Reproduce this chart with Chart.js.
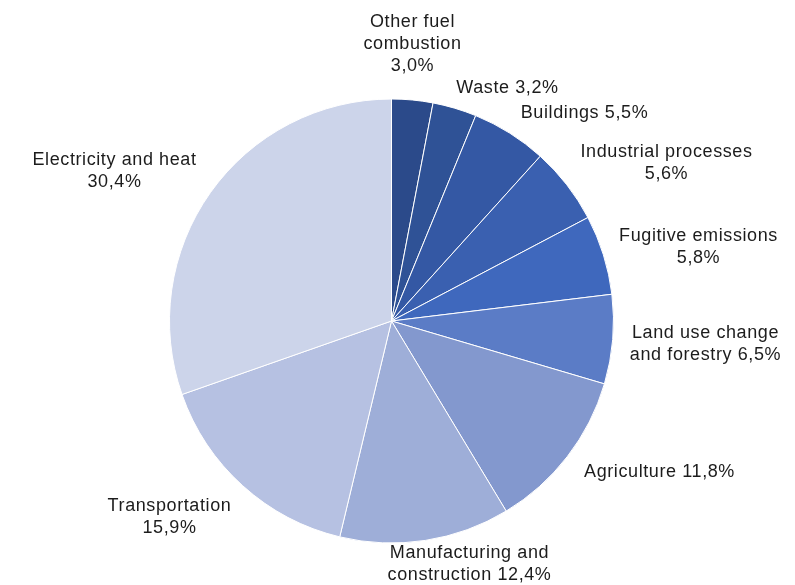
<!DOCTYPE html>
<html>
<head>
<meta charset="utf-8">
<script src="https://cdn.jsdelivr.net/npm/chart.js"></script>
<style>
  html, body { margin: 0; padding: 0; background: #fff; }
  #wrap { width: 795px; height: 585px; }
</style>
</head>
<body>
<div id="wrap"><canvas id="emissionsPie" width="795" height="585"></canvas></div>
<script>
// Greenhouse gas emissions by sector, % of total
const sectors = [
  'Other fuel combustion', 'Waste', 'Buildings', 'Industrial processes',
  'Fugitive emissions', 'Land use change and forestry', 'Agriculture',
  'Manufacturing and construction', 'Transportation', 'Electricity and heat'
];
const shares = [3.0, 3.2, 5.5, 5.6, 5.8, 6.5, 11.8, 12.4, 15.9, 30.4];

// how each label wraps; {v} is replaced by the formatted share
const labelLines = [
  ['Other fuel', 'combustion', '{v}'],
  ['Waste {v}'],
  ['Buildings {v}'],
  ['Industrial processes', '{v}'],
  ['Fugitive emissions', '{v}'],
  ['Land use change', 'and forestry {v}'],
  ['Agriculture {v}'],
  ['Manufacturing and', 'construction {v}'],
  ['Transportation', '{v}'],
  ['Electricity and heat', '{v}']
];

const sliceColors = [
  '#2b4a8a', '#2f5296', '#3458a4', '#3a60b0', '#3f68bd',
  '#5b7cc6', '#8398ce', '#9eaed8', '#b6c1e2', '#ccd4ea'
];

// label centres relative to the pie centre (px)
const labelPos = [
  [21, -277], [116, -233], [193, -208], [275, -158], [307, -74],
  [314, 23], [268, 151], [78, 243], [-222, 196], [-277, -150]
];

const fmt = v => v.toFixed(1).replace('.', ',') + '%';

const outsideLabels = {
  id: 'outsideLabels',
  afterDatasetsDraw(chart) {
    const ctx = chart.ctx;
    const arcs = chart.getDatasetMeta(0).data;
    const cx = arcs[0].x, cy = arcs[0].y;
    const lineH = 22;
    ctx.save();
    ctx.font = '18px "Liberation Sans", Arial, sans-serif';
    ctx.letterSpacing = '0.6px';
    ctx.fillStyle = '#1c1c1c';
    ctx.textAlign = 'center';
    ctx.textBaseline = 'middle';
    labelLines.forEach((lines, i) => {
      const v = chart.data.datasets[0].data[i];
      const x = cx + labelPos[i][0];
      const y0 = cy + labelPos[i][1] - (lines.length - 1) * lineH / 2;
      lines.forEach((ln, j) => {
        ctx.fillText(ln.replace('{v}', fmt(v)), x, y0 + j * lineH);
      });
    });
    ctx.restore();
  }
};

new Chart(document.getElementById('emissionsPie'), {
  type: 'pie',
  data: {
    labels: sectors,
    datasets: [{
      data: shares,
      backgroundColor: sliceColors,
      borderColor: '#ffffff',
      borderWidth: 1
    }]
  },
  options: {
    responsive: false,
    animation: false,
    layout: { padding: { left: 169, right: 181, top: 98, bottom: 41 } },
    plugins: {
      legend: { display: false },
      tooltip: { enabled: false }
    }
  },
  plugins: [outsideLabels]
});
</script>
</body>
</html>
